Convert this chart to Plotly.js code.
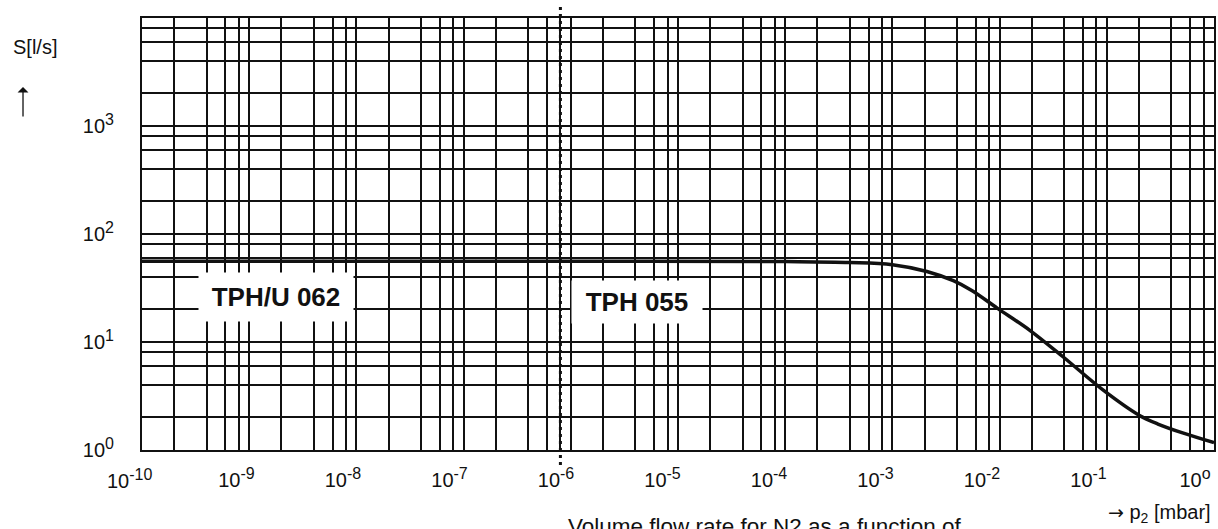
<!DOCTYPE html>
<html>
<head>
<meta charset="utf-8">
<script src="https://cdn.plot.ly/plotly-3.0.1.min.js"></script>
<style>html,body{margin:0;padding:0;background:#fff;}#chart{width:1218px;height:529px;}</style>
</head>
<body>
<div id="chart"></div>
<script>
// Pressure p2 [mbar] and pumping speed S [l/s]
const pressure = [1e-10, 1e-8, 1e-6, 1e-4, 4e-4, 1e-3, 2.1e-3, 3.7e-3, 5.5e-3, 9.5e-3, 1.9e-2, 3.9e-2, 9.2e-2, 2.0e-1, 3.0e-1, 5.1e-1, 1.0];
const speed    = [56,    56,   56,   55.5, 54.5, 52,   45,     37,     30,     20.6,   12.9,   7.3,    3.6,    2.1,    1.74,   1.44,   1.17];

// Tick labels (exponents)
const xExponents = ["-10", "-9", "-8", "-7", "-6", "-5", "-4", "-3", "-2", "-1", "o"];
const xDecades = [-10, -9, -8, -7, -6, -5, -4, -3, -2, -1, 0];
const yExponents = ["0", "1", "2", "3"];
const yDecades = [0, 1, 2, 3];
const gridMultipliers = [1, 2, 4, 6, 8];

// Model boundary (dotted line) and labels
const boundaryPressure = 8e-7;
const modelLabels = ["TPH/U 062", "TPH 055"];

function gridVals(from, to) {
  const v = [];
  for (let d = from; d < to; d++) for (const m of gridMultipliers) v.push(m * Math.pow(10, d));
  v.push(Math.pow(10, to));
  return v;
}
const pow = e => "10<sup><span style='font-size:16px'>" + e + "</span></sup>";

const font = "Liberation Sans, Arial, sans-serif";
const ink = "#111";
const labelRange = [-9.887, 0.178];

const traces = [
  {
    x: pressure, y: speed, type: "scatter", mode: "lines",
    line: {color: ink, width: 3.5, shape: "spline", smoothing: 1},
    hoverinfo: "skip", showlegend: false
  },
  { // carrier so the label axis is drawn; invisible
    x: pressure, y: speed, xaxis: "x2", type: "scatter", mode: "lines",
    line: {width: 0}, opacity: 0, hoverinfo: "skip", showlegend: false
  }
];

const yGrid = gridVals(0, 4);

// decade labels inside the label-axis range are ticks; the one beyond it is placed with the same scale as an annotation
const inRange = xDecades.map(d => d >= labelRange[0] && d <= labelRange[1]);
const edgeLabels = xDecades.map((d, i) => ({d, i})).filter(o => !inRange[o.i]).map(o => ({
  xref: "paper", yref: "paper",
  x: (o.d - labelRange[0]) / (labelRange[1] - labelRange[0]), y: -0.066,
  xanchor: "center", yanchor: "middle",
  text: pow(xExponents[o.i]), showarrow: false, font: {family: font, size: 20, color: ink}
}));

const layout = {
  width: 1218, height: 529,
  margin: {l: 142, r: 4, t: 18, b: 79},
  paper_bgcolor: "#fff", plot_bgcolor: "#fff",
  font: {family: font, color: ink, size: 20},
  showlegend: false,
  xaxis: {
    type: "log", range: [-10, 0],
    tickmode: "array", tickvals: gridVals(-10, 0),
    showticklabels: false, ticks: "",
    showgrid: true, gridcolor: ink, gridwidth: 2,
    showline: true, linecolor: ink, linewidth: 2, mirror: true
  },
  xaxis2: {
    type: "log", range: labelRange, overlaying: "x", anchor: "y", side: "bottom",
    tickmode: "array",
    tickvals: xDecades.filter((d, i) => inRange[i]).map(d => Math.pow(10, d)),
    ticktext: xExponents.filter((e, i) => inRange[i]).map(pow),
    showgrid: false, showline: false, ticks: "", ticklabelstandoff: 16,
    tickfont: {family: font, size: 20, color: ink}
  },
  yaxis: {
    type: "log", range: [0, 4],
    tickmode: "array", tickvals: yGrid,
    ticktext: yGrid.map(v => {
      const i = yDecades.findIndex(d => Math.abs(Math.pow(10, d) - v) < 1e-9);
      return i >= 0 ? pow(yExponents[i]) : "";
    }),
    ticks: "", ticklabelstandoff: 22,
    tickfont: {family: font, size: 20, color: ink},
    showgrid: true, gridcolor: ink, gridwidth: 2,
    showline: true, linecolor: ink, linewidth: 2, mirror: true
  },
  shapes: [{
    type: "line", xref: "x", yref: "paper",
    x0: boundaryPressure, x1: boundaryPressure, y0: -0.035, y1: 1.03,
    line: {color: ink, width: 3, dash: "3px,4px"}, layer: "above"
  }],
  annotations: edgeLabels.concat([
    {xref: "x", yref: "y", x: -8.75, y: 1.417, text: "<b>" + modelLabels[0] + "</b>", showarrow: false,
     font: {family: font, size: 26, color: ink}, bgcolor: "#fff", width: 150, height: 44, borderpad: 2},
    {xref: "x", yref: "y", x: -5.38, y: 1.37, text: "<b>" + modelLabels[1] + "</b>", showarrow: false,
     font: {family: font, size: 26, color: ink}, bgcolor: "#fff", width: 126, height: 38, borderpad: 2},
    {xref: "paper", yref: "paper", x: -0.1, y: 0.933, xanchor: "center", yanchor: "middle",
     text: "S[l/s]", showarrow: false, font: {family: font, size: 20, color: ink}},
    {xref: "paper", yref: "paper", x: -0.111, y: 0.84, text: "", showarrow: true,
     ax: 0, ay: 31, arrowhead: 1, arrowsize: 1.4, arrowwidth: 1.3, arrowcolor: ink},
    {xref: "paper", yref: "paper", x: 0.999, y: -0.146, xanchor: "right", yanchor: "middle",
     text: "<span style='font-family:DejaVu Sans;font-size:19px'>→</span> p<sub>2</sub> [mbar]", showarrow: false,
     font: {family: font, size: 20, color: ink}},
    {xref: "paper", yref: "paper", x: 0.581, y: -0.143, xanchor: "center", yanchor: "top",
     text: "Volume flow rate for N2 as a function of", showarrow: false,
     font: {family: font, size: 22.5, color: ink}}
  ])
};

Plotly.newPlot("chart", traces, layout, {staticPlot: true, displayModeBar: false});
</script>
</body>
</html>
